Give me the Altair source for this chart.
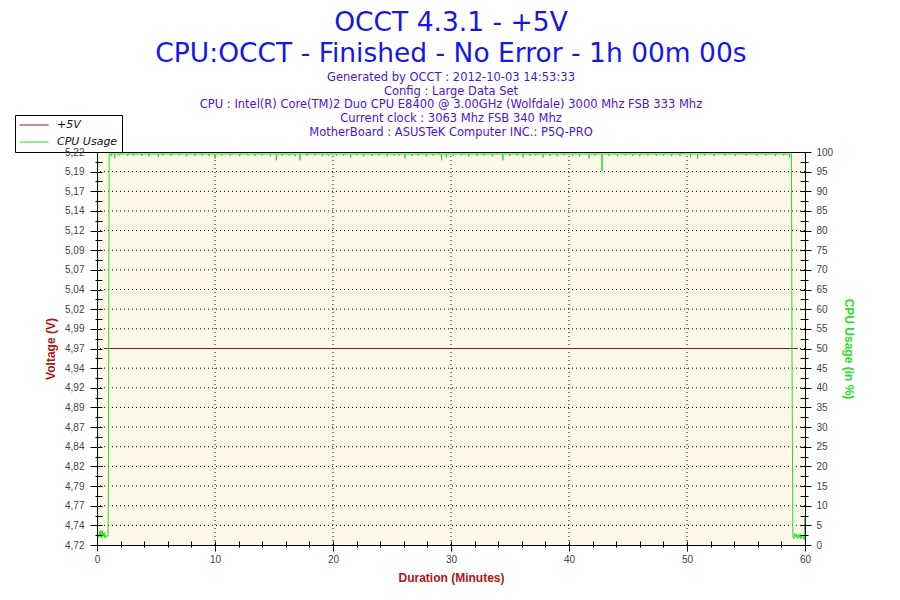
import json
import altair as alt
import pandas as pd

# ---------------- data ----------------
x_ticks = [0, 2, 4, 6, 8, 10, 12, 14, 16, 18, 20, 22, 24, 26, 28, 30, 32, 34, 36, 38,
           40, 42, 44, 46, 48, 50, 52, 54, 56, 58, 60]
x_major = [0, 10, 20, 30, 40, 50, 60]
x_grid = [10, 20, 30, 40, 50]

volt_ticks = [4.72, 4.745, 4.77, 4.795, 4.82, 4.845, 4.87, 4.895, 4.92, 4.945, 4.97,
              4.995, 5.02, 5.045, 5.07, 5.095, 5.12, 5.145, 5.17, 5.195, 5.22]
volt_labels = ["4,72", "4,74", "4,77", "4,79", "4,82", "4,84", "4,87", "4,89", "4,92",
               "4,94", "4,97", "4,99", "5,02", "5,04", "5,07", "5,09", "5,12", "5,14",
               "5,17", "5,19", "5,22"]
volt_minor = [4.7325, 4.7575, 4.7825, 4.8075, 4.8325, 4.8575, 4.8825, 4.9075, 4.9325,
              4.9575, 4.9825, 5.0075, 5.0325, 5.0575, 5.0825, 5.1075, 5.1325, 5.1575,
              5.1825, 5.2075]

cpu_ticks = [0, 5, 10, 15, 20, 25, 30, 35, 40, 45, 50, 55, 60, 65, 70, 75, 80, 85, 90, 95, 100]
cpu_minor = [2.5, 7.5, 12.5, 17.5, 22.5, 27.5, 32.5, 37.5, 42.5, 47.5, 52.5, 57.5, 62.5,
             67.5, 72.5, 77.5, 82.5, 87.5, 92.5, 97.5]

series_names = ["+5V", "CPU Usage"]
series_colors = ["#8e1b1b", "#1ee61e"]

volt_t = [0.6, 59.4]
volt_v = [4.97, 4.97]

cpu_start_t = [0.05, 0.12, 0.2, 0.27, 0.33, 0.4, 0.46, 0.52, 0.6, 0.66, 0.72, 0.8, 0.87,
               0.93, 0.96, 1.03]
cpu_start_v = [2.5, 2.0, 3.5, 2.0, 3.8, 1.8, 3.6, 2.2, 3.2, 1.8, 2.6, 2.0, 2.4, 2.2, 9.8, 99.5]

cpu_base = 99.5
cpu_dip_t = [1.2, 1.5, 1.9, 2.6, 3.1, 3.8, 4.4, 5.2, 5.6, 6.3, 7.0, 7.6, 8.3, 8.9, 9.5,
             10.0, 10.6, 11.3, 12.1, 12.8, 13.4, 14.0, 14.7, 15.2, 15.7, 16.3, 16.8, 17.2,
             17.8, 18.5, 19.1, 19.6, 20.3, 20.9, 21.5, 22.0, 22.6, 23.3, 23.9, 24.6, 25.2,
             25.6, 26.1, 26.7, 27.2, 27.9, 28.5, 29.2, 29.6, 30.2, 30.9, 31.5, 32.2, 32.8,
             33.5, 34.4, 35.0, 35.6, 36.1, 36.7, 37.2, 37.8, 38.4, 39.0, 39.6, 40.3, 40.9,
             41.7, 42.2, 42.8, 43.4, 44.1, 44.8, 45.4, 46.0, 46.7, 47.4, 48.0, 48.7, 49.4,
             50.3, 50.9, 51.5, 52.3, 53.2, 54.1, 55.0, 55.9, 56.7, 57.5, 58.2, 58.7]
cpu_dip_v = [99.0, 98.4, 99.1, 99.0, 99.1, 99.0, 98.9, 98.7, 99.1, 99.0, 99.1, 98.9, 99.0,
             99.1, 99.0, 98.3, 99.1, 99.0, 98.9, 99.1, 99.0, 99.1, 98.9, 97.9, 99.0, 99.1,
             98.9, 97.9, 99.0, 99.1, 98.9, 99.0, 99.1, 99.0, 98.6, 99.1, 98.9, 99.0, 99.1,
             98.9, 99.0, 99.1, 98.4, 99.0, 99.1, 98.9, 99.0, 97.9, 98.6, 99.0, 99.1, 98.9,
             99.0, 99.1, 98.9, 97.9, 99.0, 99.1, 98.6, 99.0, 99.1, 98.6, 99.0, 98.9, 99.1,
             99.0, 98.9, 98.3, 99.1, 95.1, 99.0, 98.9, 99.1, 99.0, 98.9, 99.1, 99.0, 99.1,
             98.9, 99.0, 98.6, 98.3, 99.1, 99.0, 99.1, 99.0, 99.1, 99.0, 99.1, 99.0, 99.1,
             98.6]

cpu_end_t = [58.85, 58.9, 58.97, 59.05, 59.12, 59.2, 59.27, 59.35, 59.42, 59.5, 59.58,
             59.65, 59.72, 59.8, 59.87, 59.93, 59.98]
cpu_end_v = [99.5, 47.0, 2.0, 1.5, 3.0, 2.0, 2.8, 1.6, 2.6, 1.8, 2.9, 1.5, 2.4, 1.9, 2.2,
             1.3, 7.0]

# ---------------- tables ----------------
volt_df = pd.DataFrame({"t": volt_t, "v": volt_v, "series": series_names[0]})

rows = list(zip(cpu_start_t, cpu_start_v))
for t, v in zip(cpu_dip_t, cpu_dip_v):
    rows += [(t - 0.02, cpu_base), (t, v), (t + 0.02, cpu_base)]
rows += list(zip(cpu_end_t, cpu_end_v))
cpu_df = pd.DataFrame(rows, columns=["t", "cpu"])
cpu_df["series"] = series_names[1]

gy_df = pd.DataFrame({"gy": volt_ticks[1:-1]})
gx_df = pd.DataFrame({"gx": x_grid})

# ---------------- axes ----------------
LABEL_FONT = "Liberation Sans"
LABEL_COLOR = "#444444"


def cond_size(major, big, small):
    return {"condition": {"test": f"indexof({json.dumps(major)}, datum.value) >= 0", "value": big},
            "value": small}


x_axis = alt.Axis(
    title="Duration (Minutes)", values=x_ticks,
    labelExpr=f"indexof({json.dumps(x_major)}, datum.value) >= 0 ? datum.label : ''",
    offset=-4, tickSize=cond_size(x_major, 10, 6), domain=False, grid=False,
    tickColor="black", labelFont=LABEL_FONT, labelFontSize=10, labelColor=LABEL_COLOR,
    labelPadding=3, labelOverlap=False, labelFlush=False, format="d",
    titleFont=LABEL_FONT, titleFontSize=12, titleFontWeight="bold", titleColor="#b01515",
    titlePadding=8, zindex=1,
)

v_axis = alt.Axis(
    title="Voltage (V)", orient="left", values=volt_ticks + volt_minor,
    labelExpr=f"{json.dumps(volt_labels)}[indexof({json.dumps(volt_ticks)}, datum.value)] || ''",
    offset=-5, tickSize=cond_size(volt_ticks, 12, 7), domain=False, grid=False,
    tickColor="black", labelFont=LABEL_FONT, labelFontSize=10, labelColor=LABEL_COLOR,
    labelPadding=6, labelOverlap=False, labelFlush=False,
    titleFont=LABEL_FONT, titleFontSize=12, titleFontWeight="bold", titleColor="#b01515",
    titlePadding=7, zindex=1,
)

c_axis = alt.Axis(
    title="CPU Usage (in %)", orient="right", values=cpu_ticks + cpu_minor,
    labelExpr=f"indexof({json.dumps(cpu_ticks)}, datum.value) >= 0 ? datum.label : ''",
    offset=-5, tickSize=cond_size(cpu_ticks, 11, 8), domain=False, grid=False,
    tickColor="black", labelFont=LABEL_FONT, labelFontSize=10, labelColor=LABEL_COLOR,
    labelPadding=5, labelOverlap=False, labelFlush=False,
    titleFont=LABEL_FONT, titleFontSize=12, titleFontWeight="bold", titleColor="#2ade2a",
    titlePadding=9, zindex=1,
)

x_scale = alt.Scale(domain=[0, 60], nice=False, zero=False)
v_scale = alt.Scale(domain=[4.72, 5.22], nice=False, zero=False)
c_scale = alt.Scale(domain=[0, 100], nice=False, zero=False)

color_enc = alt.Color(
    "series:N",
    scale=alt.Scale(domain=series_names, range=series_colors),
    legend=alt.Legend(
        title=None, orient="none", legendX=-82, legendY=-37, direction="vertical",
        strokeColor="black", fillColor="white", padding=4, cornerRadius=0,
        symbolType="stroke", symbolSize=841, symbolStrokeWidth=1, clipHeight=12,
        rowPadding=5, labelOffset=8, labelFont="DejaVu Sans", labelFontStyle="italic",
        labelFontSize=11, labelColor="#111111",
    ),
)

grid_h = alt.Chart(gy_df).mark_rule(color="black", strokeWidth=1, strokeDash=[1, 3]).encode(
    y=alt.Y("gy:Q", scale=v_scale, axis=v_axis)
)
grid_v = alt.Chart(gx_df).mark_rule(color="black", strokeWidth=1, strokeDash=[1, 3]).encode(
    x=alt.X("gx:Q", scale=x_scale, axis=x_axis)
)
volt_line = alt.Chart(volt_df).mark_line(strokeWidth=1).encode(
    x=alt.X("t:Q", scale=x_scale, axis=x_axis),
    y=alt.Y("v:Q", scale=v_scale, axis=v_axis),
    color=color_enc,
)
cpu_line = alt.Chart(cpu_df).mark_line(strokeWidth=1).encode(
    x=alt.X("t:Q", scale=x_scale, axis=x_axis),
    y=alt.Y("cpu:Q", scale=c_scale, axis=c_axis),
    color=color_enc,
)

volt_group = alt.layer(grid_h, grid_v, volt_line)

chart = alt.layer(volt_group, cpu_line).resolve_scale(y="independent").properties(
    width=708,
    height=393,
    autosize=alt.AutoSizeParams(type="none"),
    padding={"left": 89, "top": 144, "right": 80, "bottom": 44},
    title=alt.TitleParams(
        text=["OCCT 4.3.1 - +5V", "CPU:OCCT - Finished - No Error - 1h 00m 00s"],
        subtitle=[
            "Generated by OCCT : 2012-10-03 14:53:33",
            "Config : Large Data Set",
            "CPU : Intel(R) Core(TM)2 Duo CPU E8400 @ 3.00GHz (Wolfdale) 3000 Mhz FSB 333 Mhz",
            "Current clock : 3063 Mhz FSB 340 Mhz",
            "MotherBoard : ASUSTeK Computer INC.: P5Q-PRO",
        ],
        anchor="middle", font="DejaVu Sans", fontSize=26.5, fontWeight="normal",
        color="#1616e8", lineHeight=31,
        subtitleFont="DejaVu Sans", subtitleFontSize=11.5, subtitleColor="#4a14dc",
        subtitleLineHeight=13.8, subtitlePadding=4, offset=-24,
    ),
).configure_view(stroke="black", strokeWidth=1, fill="#fdf8ea")

chart.save("out.html", embed_options={"renderer": "svg", "actions": False})
